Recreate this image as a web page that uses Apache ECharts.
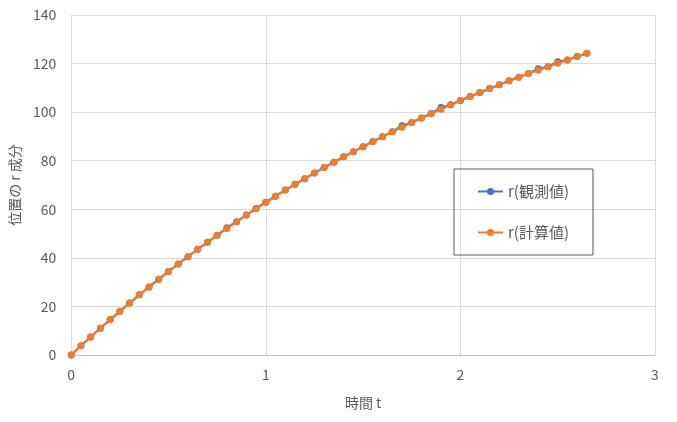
<!DOCTYPE html>
<html>
<head>
<meta charset="utf-8">
<script src="https://cdn.jsdelivr.net/npm/echarts@6/dist/echarts.min.js"></script>
<style>
  html, body { margin: 0; padding: 0; background: #fff; }
  #chart { width: 677px; height: 422px; }
</style>
</head>
<body>
<div id="chart"></div>
<script>
// 時間 t
var times = [0, 0.05, 0.1, 0.15, 0.2, 0.25, 0.3, 0.35, 0.4, 0.45,
  0.5, 0.55, 0.6, 0.65, 0.7, 0.75, 0.8, 0.85, 0.9, 0.95,
  1, 1.05, 1.1, 1.15, 1.2, 1.25, 1.3, 1.35, 1.4, 1.45,
  1.5, 1.55, 1.6, 1.65, 1.7, 1.75, 1.8, 1.85, 1.9, 1.95,
  2, 2.05, 2.1, 2.15, 2.2, 2.25, 2.3, 2.35, 2.4, 2.45,
  2.5, 2.55, 2.6, 2.65]

// r(計算値)
var rCalc = [0, 3.8, 7.4, 11.0, 14.6, 18.0, 21.4, 24.8, 28.0, 31.2,
  34.4, 37.5, 40.5, 43.5, 46.4, 49.3, 52.1, 54.9, 57.6, 60.3,
  62.9, 65.4, 67.9, 70.3, 72.6, 74.9, 77.2, 79.4, 81.6, 83.7,
  85.8, 87.9, 89.9, 91.9, 93.8, 95.7, 97.6, 99.4, 101.2, 103.0,
  104.8, 106.4, 108.1, 109.7, 111.3, 112.9, 114.4, 115.9, 117.3, 118.7,
  120.1, 121.5, 122.9, 124.2]

// r(観測値)
var rObs = [0, 3.8, 7.4, 11.0, 14.6, 18.0, 21.4, 24.8, 28.0, 31.2,
  34.4, 37.5, 40.5, 43.5, 46.4, 49.3, 52.4, 54.9, 57.6, 60.3,
  62.9, 65.4, 67.9, 70.3, 72.6, 74.9, 77.2, 79.4, 81.6, 83.7,
  85.8, 87.9, 89.9, 91.9, 94.4, 95.7, 97.6, 99.4, 101.9, 103.0,
  104.8, 106.4, 108.1, 109.7, 111.3, 112.9, 114.4, 115.9, 117.9, 118.7,
  120.7, 121.5, 122.9, 124.2]

function pairs(ys) {
  return times.map(function (t, i) { return [t, ys[i]] })
}

var font = '"Noto Sans CJK JP", "Noto Sans", sans-serif'
var textGray = '#595959'

var chart = echarts.init(document.getElementById('chart'))

var option = {
  animation: false,
  grid: { left: 70, right: 22, top: 15, bottom: 67 },
  xAxis: {
    type: 'value',
    min: 0, max: 3, interval: 1,
    name: '時間 t',
    nameLocation: 'middle',
    nameGap: 41,
    nameTextStyle: { color: textGray, fontSize: 14, fontFamily: font },
    axisLine: { show: true, lineStyle: { color: '#bfbfbf', width: 1 } },
    axisTick: { show: false },
    axisLabel: { color: textGray, fontSize: 14, fontFamily: font, margin: 13 },
    splitLine: { show: true, lineStyle: { color: '#d9d9d9', width: 1 } }
  },
  yAxis: {
    type: 'value',
    min: 0, max: 140, interval: 20,
    name: '位置の r 成分',
    nameLocation: 'middle',
    nameGap: 49,
    nameRotate: 90,
    nameTextStyle: { color: textGray, fontSize: 14, fontFamily: font },
    axisLine: { show: false },
    axisTick: { show: false },
    axisLabel: { color: textGray, fontSize: 14, fontFamily: font, margin: 15 },
    splitLine: { show: true, lineStyle: { color: '#d9d9d9', width: 1 } }
  },
  legend: {
    orient: 'vertical',
    left: 454, top: 169,
    padding: [15, 24, 15, 23],
    itemGap: 26,
    itemWidth: 25,
    itemHeight: 9,
    borderColor: '#595959',
    borderWidth: 1,
    textStyle: { color: textGray, fontSize: 15, fontFamily: font },
    data: ['r(観測値)', 'r(計算値)']
  },
  series: [
    {
      name: 'r(観測値)',
      type: 'line',
      data: pairs(rObs),
      symbol: 'circle',
      symbolSize: 7,
      lineStyle: { color: '#4472C4', width: 2.25 },
      itemStyle: { color: '#4472C4' }
    },
    {
      name: 'r(計算値)',
      type: 'line',
      data: pairs(rCalc),
      symbol: 'circle',
      symbolSize: 7,
      lineStyle: { color: '#ED7D31', width: 2.25 },
      itemStyle: { color: '#ED7D31' }
    }
  ]
}

chart.setOption(option)
</script>
</body>
</html>
